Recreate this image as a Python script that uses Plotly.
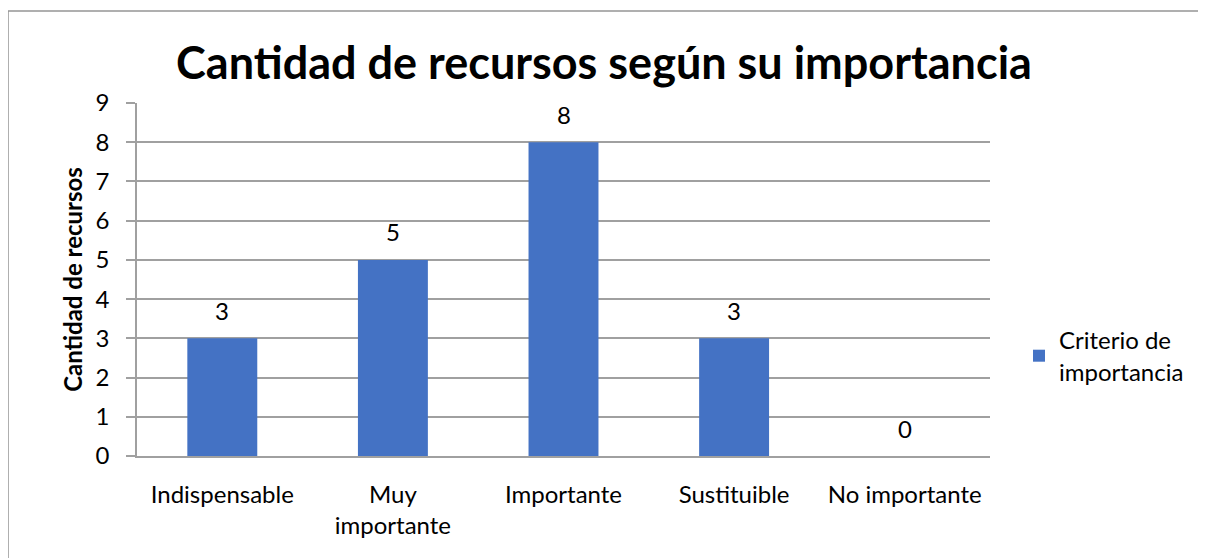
import plotly.graph_objects as go

categorias = ["Indispensable", "Muy<br>importante", "Importante", "Sustituible", "No importante"]
cantidades = [3, 5, 8, 3, 0]
serie = "Criterio de<br>importancia"
titulo = "Cantidad de recursos según su importancia"
titulo_y = "Cantidad de recursos"

FONT = "Lato"
BAR = "#4472C4"
GRID = "#A0A0A0"

# page body has an 8px margin, so the figure is drawn 8px in
OFF = 8
W, H = 1206 - OFF, 558 - OFF
# plot area in reference pixels
L, R, T, B = 137, 990, 103, 456
pw, ph = R - L, B - T


def px_x(x):
    return (x - L) / pw


def px_y(y):
    return (B - y) / ph


fig = go.Figure(go.Bar(
    x=categorias,
    y=cantidades,
    name=serie,
    marker=dict(color=BAR, line=dict(width=0)),
    showlegend=True,
))

# data labels sit a bit higher above the bars than plotly's "outside" text
for cat, val in zip(categorias, cantidades):
    fig.add_annotation(x=cat, y=val, text=str(val), showarrow=False,
                       yshift=28, font=dict(family=FONT, size=24, color="#000000"))

fig.update_layout(
    width=W, height=H,
    margin=dict(l=L - OFF, r=W - (R - OFF), t=T - OFF, b=H - (B - OFF)),
    paper_bgcolor="white", plot_bgcolor="white",
    font=dict(family=FONT, size=24, color="#000000"),
    bargap=0.59,
    title=dict(text=f"<b>{titulo}</b>", x=(604 - OFF) / W, xanchor="center",
               xref="container",
               y=1 - (63 - OFF) / H, yanchor="middle",
               font=dict(family=FONT, size=45, color="#000000")),
    legend=dict(x=px_x(1019), y=px_y(356), xanchor="left", yanchor="middle",
                font=dict(family=FONT, size=24), itemwidth=30,
                bgcolor="rgba(0,0,0,0)"),
    shapes=[dict(type="rect", xref="paper", yref="paper",
                 x0=px_x(8), x1=px_x(1199), y0=px_y(575), y1=px_y(11),
                 line=dict(color="#959595", width=1.5), layer="below")],
)

fig.update_xaxes(
    showgrid=False, showline=True, linecolor=GRID, linewidth=1.5,
    ticks="", ticklabelstandoff=16,
    tickfont=dict(family=FONT, size=24),
)
fig.update_yaxes(
    range=[0, 9], dtick=1, showgrid=True, gridcolor=GRID, gridwidth=1.5,
    showline=True, linecolor=GRID, linewidth=1.5, zeroline=False,
    ticks="outside", ticklen=9, tickcolor=GRID, tickwidth=1.5,
    ticklabelstandoff=12,
    tickfont=dict(family=FONT, size=24),
    title=dict(text=f"<b>{titulo_y}</b>", standoff=6,
               font=dict(family=FONT, size=24)),
)

fig.write_html("out.html")
